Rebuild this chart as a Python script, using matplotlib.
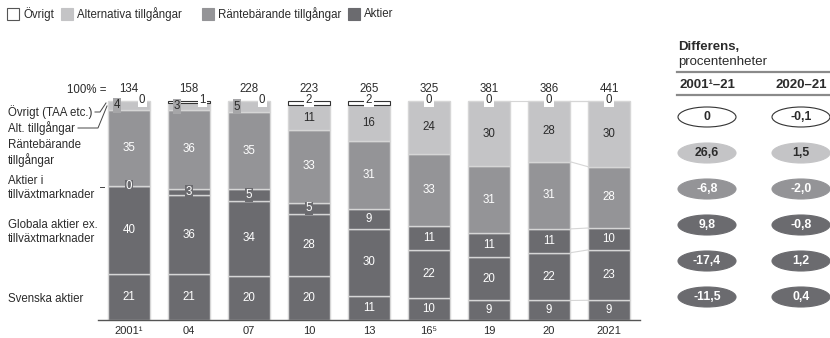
import numpy as np
import matplotlib
matplotlib.use("Agg")
import matplotlib.pyplot as plt
from matplotlib.patches import Ellipse, Rectangle
from matplotlib.lines import Line2D

plt.rcParams["font.family"] = ["Liberation Sans", "DejaVu Sans"]
plt.rcParams["font.size"] = 8.3

# ---- data ----
years = ["2001\u00b9", "04", "07", "10", "13", "16\u2075", "19", "20", "2021"]
totals = [134, 158, 228, 223, 265, 325, 381, 386, 441]
svenska = [21, 21, 20, 20, 11, 10, 9, 9, 9]
globala = [40, 36, 34, 28, 30, 22, 20, 22, 23]
tillvaxt = [0, 3, 5, 5, 9, 11, 11, 11, 10]
rante = [35, 36, 35, 33, 31, 33, 31, 31, 28]
alt = [4, 3, 5, 11, 16, 24, 30, 28, 30]
ovrigt = [0, 1, 0, 2, 2, 0, 0, 0, 0]

seg_names = ["Svenska aktier", "Globala aktier ex.\ntillväxtmarknader",
             "Aktier i\ntillväxtmarknader", "Räntebärande\ntillgångar",
             "Alt. tillgångar", "Övrigt (TAA etc.)"]
diff_2001 = [0, 26.6, -6.8, 9.8, -17.4, -11.5]   # övrigt .. svenska (top to bottom)
diff_2020 = [-0.1, 1.5, -2.0, -0.8, 1.2, 0.4]
legend_labels = ["Övrigt", "Alternativa tillgångar", "Räntebärande tillgångar", "Aktier"]

DARK, MID, LIGHT, WHITE = "#6b6b6f", "#949497", "#c4c4c6", "#ffffff"
SEP = "#d6d6d6"
TXT = "#2b2b2b"

W, H = 830, 338
fig = plt.figure(figsize=(W / 100, H / 100), dpi=100)


def fx(px):
    return px / W


def fy(py):
    return 1 - py / H


# ---- legend (manual) ----
leg_x = [7, 61, 202, 348]
leg_fc = [WHITE, LIGHT, MID, DARK]
for x, fc, lab in zip(leg_x, leg_fc, legend_labels):
    fig.patches.append(Rectangle((fx(x), fy(20)), 12 / W, 12 / H, transform=fig.transFigure,
                                 facecolor=fc, edgecolor="#555" if fc == WHITE else fc, lw=0.8))
    fig.text(fx(x + 16), fy(14), lab, ha="left", va="center", color=TXT)

# ---- main bars ----
ax = fig.add_axes([fx(98), fy(320), (640 - 98) / W, (320 - 80) / H])
ax.set_xlim(-0.517, 8.517)
ax.set_ylim(0, (320 - 80) / 219 * 100)
for s in ["top", "right", "left"]:
    ax.spines[s].set_visible(False)
ax.spines["bottom"].set_color("#555")
ax.spines["bottom"].set_linewidth(1.0)
ax.set_yticks([])
ax.set_xticks(range(len(years)))
ax.set_xticklabels(years, color=TXT, fontsize=8)
ax.tick_params(axis="x", length=0, pad=4)

data = np.array([svenska, globala, tillvaxt, rante, alt, ovrigt], dtype=float)
scaled = data / data.sum(axis=0) * 100
colors = [DARK, DARK, DARK, MID, LIGHT, WHITE]
x = np.arange(len(years))
bw = 0.7
bottom = np.zeros(len(years))
bounds = [bottom.copy()]
for i, (row, c) in enumerate(zip(scaled, colors)):
    if i == 5:
        for j in range(len(years)):
            if data[i, j] > 0:
                ax.bar(x[j], row[j], bw, bottom=bottom[j], color=WHITE,
                       edgecolor="#333", linewidth=0.8, zorder=3)
    else:
        ax.bar(x, row, bw, bottom=bottom, color=c, edgecolor=SEP, linewidth=1.0, zorder=2)
    bottom = bottom + row
    bounds.append(bottom.copy())

# connectors 2020 -> 2021
for b in bounds[1:-1]:
    ax.plot([x[7] + bw / 2, x[8] - bw / 2], [b[7], b[8]], color=SEP, lw=0.8, zorder=1)
ax.plot([x[6] + bw / 2, x[7] - bw / 2], [100, 100], color=SEP, lw=0.8, zorder=1)
ax.plot([x[7] + bw / 2, x[8] - bw / 2], [100, 100], color=SEP, lw=0.8, zorder=1)

# segment labels
for j in range(len(years)):
    for i in range(5):
        v = int(data[i, j])
        lo, hi = bounds[i][j], bounds[i + 1][j]
        yc = (lo + hi) / 2
        col = TXT if i == 4 else "white"
        if i == 4 and v < 6:
            ax.text(x[j] - 0.2, yc, str(v), ha="center", va="center", color=TXT, zorder=5,
                    bbox=dict(boxstyle="square,pad=0.1", fc="#a6a6a8", ec="none"))
        elif i == 2 and v < 6:
            ax.text(x[j], yc, str(v), ha="center", va="center", color="white", zorder=5,
                    bbox=dict(boxstyle="square,pad=0.05", fc=DARK, ec="none"))
        else:
            ax.text(x[j], yc, str(v), ha="center", va="center", color=col, zorder=5)
    # övrigt label
    ov = int(data[5, j])
    xo = x[j] + 0.22 if data[4, j] < 6 else x[j]
    ax.text(xo, 100.5, str(ov), ha="center", va="center", color=TXT, zorder=6,
            bbox=dict(boxstyle="square,pad=0.12", fc="white", ec="none"))
    ax.text(x[j], 105.5, str(totals[j]), ha="center", va="center", color=TXT)

fig.text(fx(106), fy(90), "100% =", ha="right", va="center", color=TXT)

# ---- left category labels ----
lab_pos = [(8, 299), (8, 232), (8, 188), (8, 153), (8, 128), (8, 112)]
for name, (px, py) in zip(seg_names, lab_pos):
    fig.text(fx(px), fy(py), name, ha="left", va="center", color=TXT,
             linespacing=1.2)
lead = [([95, 100, 106], [112, 112, 103]),
        ([78, 98, 107], [128, 128, 106]),
        ([100, 104], [187, 187])]
for xs, ys in lead:
    fig.lines.append(Line2D([fx(v) for v in xs], [fy(v) for v in ys],
                            transform=fig.transFigure, color="#444", lw=0.7))

# ---- right panel ----
ax2 = fig.add_axes([fx(660), 0, (W - 660) / W, 1])
ax2.set_xlim(660, W)
ax2.set_ylim(H, 0)
ax2.axis("off")
ax2.text(678, 47, "Differens,", ha="left", va="center", fontsize=9.5, fontweight="bold", color=TXT)
ax2.text(678, 62, "procentenheter", ha="left", va="center", fontsize=9.5, color=TXT)
ax2.plot([677, 830], [72, 72], color="#8a8a8a", lw=1.6)
ax2.text(679, 85, "2001\u00b9\u201321", ha="left", va="center", fontsize=9.5, fontweight="bold", color=TXT)
ax2.text(827, 85, "2020\u201321", ha="right", va="center", fontsize=9.5, fontweight="bold", color=TXT)
ax2.plot([677, 830], [95, 95], color="#8a8a8a", lw=1.6)

row_fc = [WHITE, LIGHT, MID, DARK, DARK, DARK]
row_tc = [TXT, TXT, "white", "white", "white", "white"]


def fmt(v):
    return "0" if v == 0 else f"{v:.1f}".replace(".", ",")


for r in range(6):
    yc = 117 + 36 * r
    for xc, vals in ((707, diff_2001), (801, diff_2020)):
        ax2.add_patch(Ellipse((xc, yc), 58, 20, facecolor=row_fc[r],
                              edgecolor="#333" if r == 0 else row_fc[r], lw=0.8))
        ax2.text(xc, yc, fmt(vals[r]), ha="center", va="center", color=row_tc[r],
                 fontsize=8.8, fontweight="bold")

fig.savefig("out.png", dpi=100)
